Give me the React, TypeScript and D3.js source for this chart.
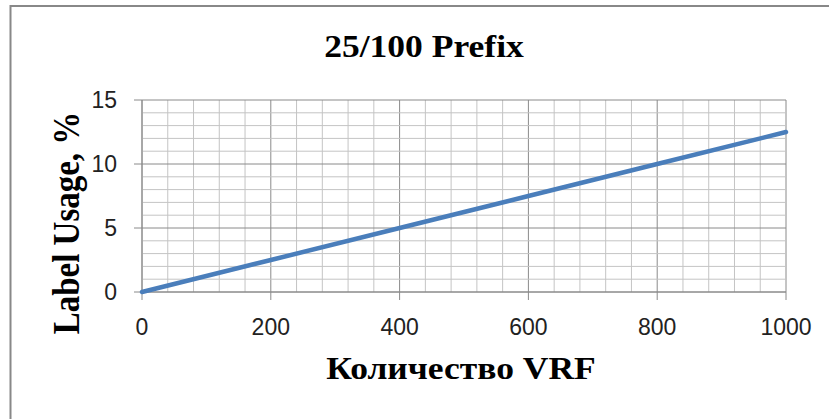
import React from "react";
import * as d3 from "d3";

const vrfCounts = [0, 200, 400, 600, 800, 1000];
const labelUsage = [0, 2.5, 5, 7.5, 10, 12.5];
const xTicks = [0, 200, 400, 600, 800, 1000];
const yTicks = [0, 5, 10, 15];
const xMinorStep = 40;
const yMinorStep = 1;
const titleText = "25/100 Prefix";
const xLabelText = "Количество VRF";
const yLabelText = "Label Usage,  %";

export default function App() {
  const W = 829, H = 419;
  const left = 142, right = 786, top = 100, bottom = 292;
  const x = d3.scaleLinear().domain([0, 1000]).range([left, right]);
  const y = d3.scaleLinear().domain([0, 15]).range([bottom, top]);
  const xMinor = d3.range(0, 1000 + 0.001, xMinorStep);
  const yMinor = d3.range(0, 15 + 0.001, yMinorStep);
  const line = d3.line<number>().x((_, i) => x(vrfCounts[i])).y((d) => y(d));
  const tickFont = "'Liberation Sans', Arial, sans-serif";
  const serif = "'Liberation Serif', 'Times New Roman', serif";
  return (
    <svg width={W} height={H} style={{ position: "absolute", left: 0, top: 0, display: "block", background: "#fff" }}>
      <rect x={10.5} y={6} width={W + 20} height={H + 20} fill="#fff" stroke="#888" strokeWidth={2} />
      {xMinor.map((v) => (
        <line key={"xm" + v} x1={x(v)} x2={x(v)} y1={top} y2={bottom} stroke={v % 200 === 0 ? "#8a8a8a" : "#c4c4c4"} strokeWidth={1} />
      ))}
      {yMinor.map((v) => (
        <line key={"ym" + v} x1={left} x2={right} y1={y(v)} y2={y(v)} stroke={v % 5 === 0 ? "#8a8a8a" : "#c4c4c4"} strokeWidth={1} />
      ))}
      <line x1={left} x2={left} y1={top} y2={bottom} stroke="#8a8a8a" />
      <line x1={left} x2={right} y1={bottom} y2={bottom} stroke="#8a8a8a" />
      {yTicks.map((v) => (
        <g key={"yt" + v}>
          <line x1={left - 8} x2={left} y1={y(v)} y2={y(v)} stroke="#8a8a8a" />
          <text x={117} y={y(v)} dy="0.35em" textAnchor="end" fontFamily={tickFont} fontSize={23} fill="#222">{v}</text>
        </g>
      ))}
      {xTicks.map((v) => (
        <g key={"xt" + v}>
          <line x1={x(v)} x2={x(v)} y1={bottom} y2={bottom + 8} stroke="#8a8a8a" />
          <text x={x(v)} y={335} textAnchor="middle" fontFamily={tickFont} fontSize={23} fill="#222">{v}</text>
        </g>
      ))}
      <path d={line(labelUsage) || ""} fill="none" stroke="#4A7EBB" strokeWidth={4.5} strokeLinecap="round" />
      <text transform="translate(424,57) scale(1.11,1)" textAnchor="middle" fontFamily={serif} fontWeight="bold" fontSize={32} fill="#000">{titleText}</text>
      <text transform="translate(461,379) scale(1.11,1)" textAnchor="middle" fontFamily={serif} fontWeight="bold" fontSize={32} fill="#000">{xLabelText}</text>
      <text transform="translate(79,223) rotate(-90) scale(1,1.12)" textAnchor="middle" fontFamily={serif} fontWeight="bold" fontSize={33} fill="#000">{yLabelText}</text>
    </svg>
  );
}
